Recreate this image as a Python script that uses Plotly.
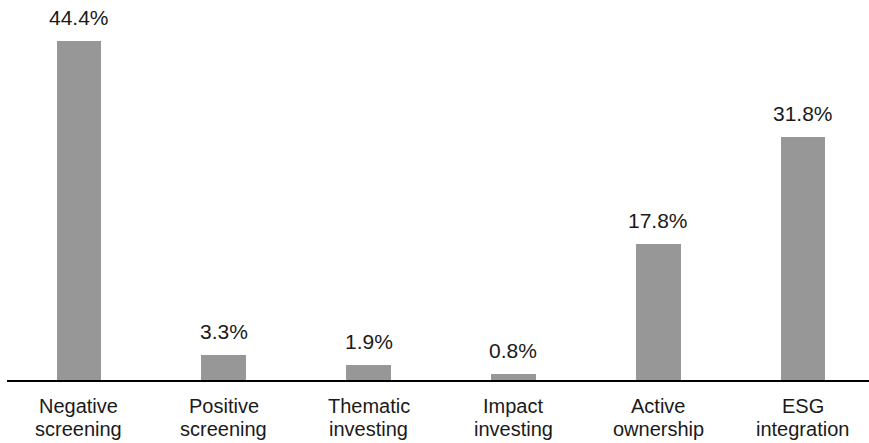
import plotly.graph_objects as go

# Share of responses by ESG strategy
categories = [["Negative", "screening"], ["Positive", "screening"], ["Thematic", "investing"],
              ["Impact", "investing"], ["Active", "ownership"], ["ESG", "integration"]]
values = [44.4, 3.3, 1.9, 0.8, 17.8, 31.8]
labels = [f"{v:.1f}%" for v in values]

FONT = "Liberation Sans, Arial, sans-serif"
TEXT = "#1a1a1a"

fig = go.Figure(
    go.Bar(
        x=list(range(len(categories))),
        y=values,
        width=0.31,
        marker=dict(color="#979797", line=dict(width=0)),
        hoverinfo="skip",
    )
)

# value labels above the bars
for i, (v, t) in enumerate(zip(values, labels)):
    fig.add_annotation(
        x=i, y=v, text=t, showarrow=False,
        yanchor="bottom", yshift=10,
        font=dict(family=FONT, size=21, color=TEXT),
    )

# two-line category labels under the axis, with tight line spacing
for i, lines in enumerate(categories):
    for j, line in enumerate(lines):
        fig.add_annotation(
            x=i, y=0, text=line, showarrow=False,
            yanchor="middle", yshift=-26 - 23 * j,
            font=dict(family=FONT, size=20, color=TEXT),
        )

fig.update_layout(
    width=869, height=443,
    margin=dict(l=7, r=0, t=0, b=63),
    paper_bgcolor="white", plot_bgcolor="white",
    showlegend=False,
    font=dict(family=FONT, size=20, color=TEXT),
    bargap=0,
)
fig.update_xaxes(
    range=[-0.497, 5.456],
    showline=True, linecolor="black", linewidth=2,
    showgrid=False, zeroline=False, showticklabels=False, ticks="",
)
fig.update_yaxes(
    range=[0, 49.71],
    visible=False, showgrid=False, zeroline=False,
)

fig.write_html("out.html")
